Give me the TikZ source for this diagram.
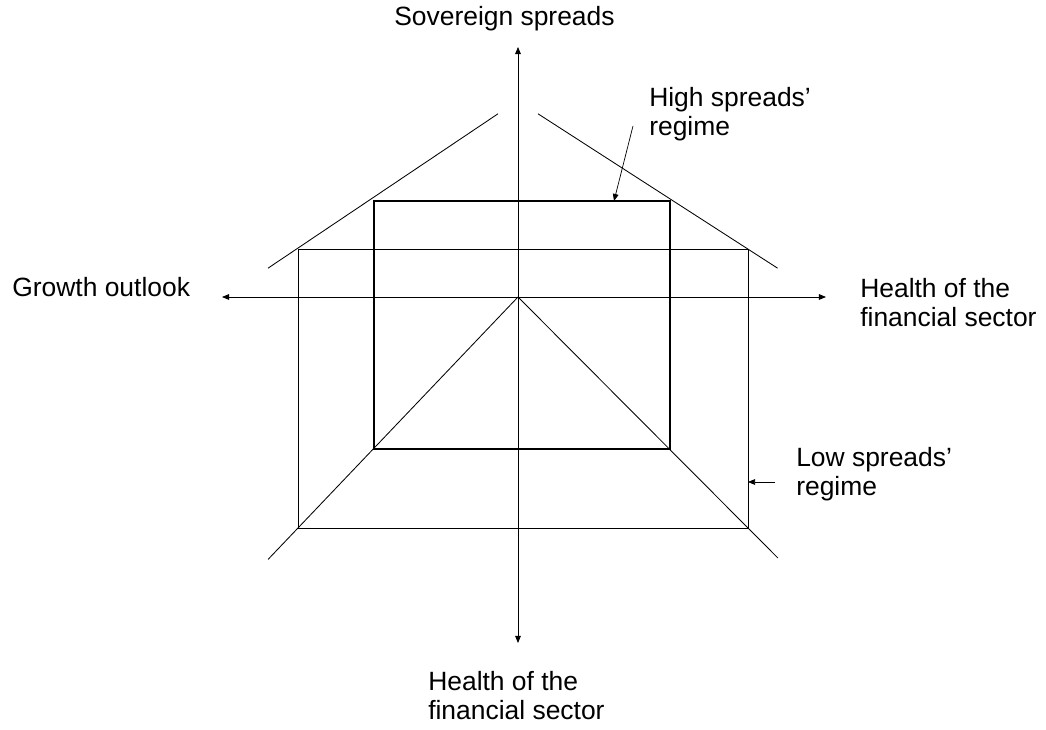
\documentclass[tikz,border=0pt]{standalone}
\usepackage{fontspec}
\setmainfont{Liberation Sans}
\usetikzlibrary{arrows.meta, calc}

\begin{document}
\begin{tikzpicture}[
  lbl/.style={inner sep=0pt, font=\fontsize{18.8pt}{20.8pt}\selectfont, align=left},
  thinline/.style={line width=0.6pt},
  boldline/.style={line width=2pt},
  axisarrow/.style={line width=0.6pt, {Triangle[length=5pt,width=4pt]}-{Triangle[length=5pt,width=4pt]}},
  tagarrow/.style={line width=0.5pt, -{Triangle[length=5pt,width=4pt]}}
]
  \useasboundingbox (-12.95,7.425) rectangle (13.2,-10.825);

  % Points
  \coordinate (o) at (0,0);
  \coordinate (top) at (0,6.25);
  \coordinate (bot) at (0,-8.65);
  \coordinate (lft) at (-7.4,0);
  \coordinate (rgt) at (7.7,0);
  \coordinate (sqa) at (-3.6,2.4);
  \coordinate (sqb) at (3.8,-3.8);
  \coordinate (rca) at (-5.5,1.19);
  \coordinate (rcb) at (5.75,-5.775);
  \coordinate (rcsw) at (rca |- rcb);
  \coordinate (roofl1) at (-6.25,0.72);
  \coordinate (roofl2) at (-0.5,4.58);
  \coordinate (roofr1) at (0.5,4.58);
  \coordinate (roofr2) at (6.49,0.72);

  % Axes
  \draw[axisarrow] (bot) -- (top);
  \draw[axisarrow] (lft) -- (rgt);

  % Regimes
  \draw[thinline] (rca) rectangle (rcb);
  \draw[boldline] (sqa) rectangle (sqb);

  % Roof and diagonals
  \draw[thinline] (roofl1) -- (roofl2);
  \draw[thinline] (roofr1) -- (roofr2);
  \draw[thinline] (o) -- ($(o)!1.13!(rcb)$);
  \draw[thinline] (o) -- ($(o)!1.136!(rcsw)$);

  % Labels
  \node[lbl, anchor=base west] (sov) at (-3.1,6.775) {Sovereign spreads};
  \node[lbl, anchor=base west] (growth) at (-12.65,0) {Growth outlook};
  \node[lbl, anchor=north west] (healthr) at (8.55,0.475) {Health of the\\financial sector};
  \node[lbl, anchor=north west] (healthb) at (-2.25,-9.35) {Health of the\\financial sector};
  \node[lbl, anchor=north west] (highlbl) at (3.275,5.25) {High spreads'\\regime};
  \node[lbl, anchor=north west] (lowlbl) at (6.95,-3.75) {Low spreads'\\regime};

  % Pointers
  \coordinate (hitail) at (2.875,4.275);
  \coordinate (hitip) at (2.4,2.4);
  \coordinate (lotail) at (6.425,-4.625);
  \coordinate (lotip) at (rcb |- lotail);
  \draw[tagarrow] (hitail) -- (hitip);
  \draw[tagarrow] (lotail) -- (lotip);
\end{tikzpicture}
\end{document}
